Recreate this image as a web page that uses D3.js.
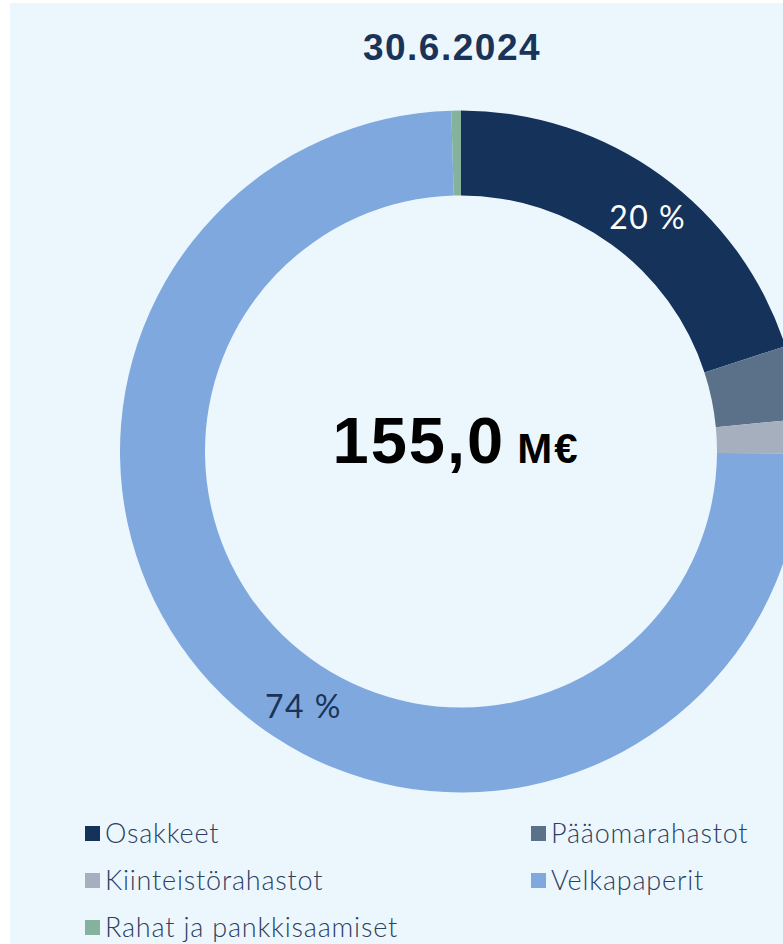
<!DOCTYPE html>
<html>
<head>
	<meta charset="UTF-8">
	<title>index</title>
	<script src="https://d3js.org/d3.v7.min.js"></script>
	<style>
		html, body { margin: 0; padding: 0; background: #fff; }
		svg { display: block; }
	</style>
</head>
<body>
<script>
	// data
	var categories = ["Osakkeet", "Pääomarahastot", "Kiinteistörahastot", "Velkapaperit", "Rahat ja pankkisaamiset"];
	var values = [31.0, 5.4, 2.5, 115.4, 0.7];   // M€
	var colors = ["#15325a", "#5b7189", "#a5afbd", "#7fa8df", "#84b29c"];
	var title = "30.6.2024";
	var totalLabel = "155,0";
	var unitLabel = "M€";

	var width = 783, height = 944;
	var cx = 461, cy = 451.5, outerR = 341, innerR = 256;

	var svg = d3.select("body").append("svg").attr("width", width).attr("height", height);

	svg.append("rect").attr("x", 10).attr("y", 3).attr("width", width - 10).attr("height", height - 3)
		.attr("fill", "#ecf7fd");

	svg.append("text").attr("x", 452).attr("y", 60).attr("text-anchor", "middle")
		.attr("font-family", "Liberation Sans, Arial, sans-serif").attr("font-weight", "bold")
		.attr("font-size", 37).attr("letter-spacing", 1.5).attr("fill", "#1a3358").text(title);

	var total = d3.sum(values);
	var pie = d3.pie().sort(null).value(function(d) { return d; });
	var arc = d3.arc().innerRadius(innerR).outerRadius(outerR);
	var arcs = pie(values);

	var g = svg.append("g").attr("transform", "translate(" + cx + "," + cy + ")");
	g.selectAll("path").data(arcs).enter().append("path")
		.attr("d", arc)
		.attr("fill", function(d, i) { return colors[i]; });

	// percentage labels for the large slices (nudged along the ring like the original)
	var nudge = { 0: 0.045, 3: -0.22 };   // radians
	g.selectAll("text.pct").data(arcs.filter(function(d) { return d.data / total > 0.1; })).enter()
		.append("text").attr("class", "pct")
		.attr("transform", function(d) {
			var a = (d.startAngle + d.endAngle) / 2 + (nudge[d.index] || 0);
			var r = (innerR + outerR) / 2 + 1;
			return "translate(" + (r * Math.sin(a)) + "," + (-r * Math.cos(a)) + ")";
		})
		.attr("text-anchor", "middle").attr("dy", "0.36em")
		.attr("font-family", "Lato, sans-serif").attr("font-size", 32).attr("letter-spacing", 1.5)
		.attr("font-weight", 400)
		.attr("fill", function(d) { return d.index === 0 ? "#ffffff" : "#1a3358"; })
		.text(function(d) { return Math.round(d.data / total * 100) + " %"; });

	// centre total
	var ct = svg.append("text").attr("x", 456).attr("y", 463).attr("text-anchor", "middle")
		.attr("font-family", "Liberation Sans, Arial, sans-serif").attr("fill", "#000");
	ct.append("tspan").attr("font-size", 65).attr("font-weight", "bold").attr("letter-spacing", 2).text(totalLabel);
	ct.append("tspan").attr("font-size", 42).attr("font-weight", "bold").attr("letter-spacing", 2).attr("dx", 12).text(unitLabel);

	// legend
	var legX = [85, 531], legY = [833, 880, 927];
	var leg = svg.selectAll("g.leg").data(categories).enter().append("g").attr("class", "leg")
		.attr("transform", function(d, i) {
			return "translate(" + legX[i % 2] + "," + legY[Math.floor(i / 2)] + ")";
		});
	leg.append("rect").attr("x", 0).attr("y", -7).attr("width", 15).attr("height", 15)
		.attr("fill", function(d, i) { return colors[i]; });
	leg.append("text").attr("x", 20).attr("dy", "0.36em")
		.attr("font-family", "Lato, sans-serif").attr("font-weight", 300).attr("font-size", 27)
		.attr("letter-spacing", 0.8)
		.attr("fill", "#2d4060").text(function(d) { return d; });
</script>
</body>
</html>
